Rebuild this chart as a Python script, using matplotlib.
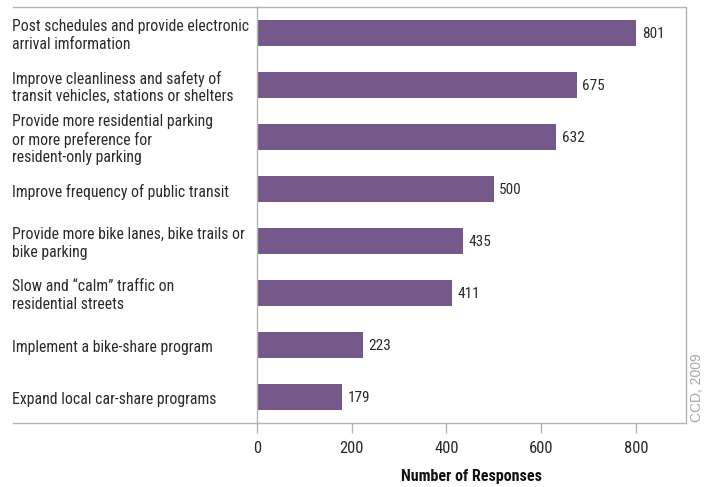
import matplotlib
matplotlib.use('Agg')
import matplotlib.pyplot as plt
from matplotlib import font_manager
from matplotlib.transforms import ScaledTranslation

categories = [
    'Post schedules and provide electronic\narrival imformation',
    'Improve cleanliness and safety of\ntransit vehicles, stations or shelters',
    'Provide more residential parking\nor more preference for\nresident-only parking',
    'Improve frequency of public transit',
    'Provide more bike lanes, bike trails or\nbike parking',
    'Slow and \u201ccalm\u201d traffic on\nresidential streets',
    'Implement a bike-share program',
    'Expand local car-share programs',
]
responses = [801, 675, 632, 500, 435, 411, 223, 179]
x_ticks = [0, 200, 400, 600, 800]

BAR_COLOR = '#76598b'
TEXT_COLOR = '#2b2b2b'
LINE_COLOR = '#b4b4b4'

# narrow sans if available, otherwise plain sans
installed = {f.name for f in font_manager.fontManager.ttflist}
family = 'DejaVu Sans'
for name in ['Roboto Condensed', 'Liberation Sans Narrow', 'Liberation Sans']:
    if name in installed:
        family = name
        break
plt.rcParams['font.family'] = family

fig = plt.figure(figsize=(7.14, 4.87), dpi=100)
ax = fig.add_axes([257 / 714, 64 / 487, 429 / 714, 416 / 487])

ypos = list(range(len(responses)))
ax.barh(ypos, responses, height=0.5, color=BAR_COLOR)
for y, v in zip(ypos, responses):
    ax.annotate(str(v), (v, y), xytext=(4, -1), textcoords='offset points',
                va='center', ha='left', fontsize=11, color=TEXT_COLOR)

ax.set_ylim(len(responses) - 0.5, -0.5)
ax.set_xlim(0, 906)
ax.set_yticks([])
ax.set_xticks(x_ticks)
ax.set_xticklabels([str(t) for t in x_ticks], fontsize=12, color=TEXT_COLOR)
ax.tick_params(axis='x', length=7, width=1, color=LINE_COLOR, pad=6)

for side in ['top', 'bottom', 'right', 'left']:
    ax.spines[side].set_color(LINE_COLOR)
    ax.spines[side].set_linewidth(1)

# category labels, left aligned in the margin, nudged down a little
lab_x = -(257 - 12) / 429
lab_tr = ax.get_yaxis_transform() + ScaledTranslation(0, -2.5 / 100, fig.dpi_scale_trans)
for y, cat in zip(ypos, categories):
    ax.text(lab_x, y, cat, transform=lab_tr, ha='left',
            va='center', fontsize=11.3, color=TEXT_COLOR, linespacing=1.22)

# extend top and bottom rules under the labels
line_x0 = -(257 - 13) / 429
for yy in (0, 1):
    ax.plot([line_x0, 0], [yy, yy], transform=ax.transAxes, color=LINE_COLOR,
            lw=1, clip_on=False)

ax.set_xlabel('Number of Responses', fontsize=11.5, fontweight='bold',
              color='#111111', labelpad=9)

fig.text(697 / 714, 65 / 487, 'CCD, 2009', rotation=90, ha='center',
         va='bottom', fontsize=10, color='#a8a8a8', family='Liberation Sans')

fig.savefig('out.png', dpi=100, facecolor='white')
